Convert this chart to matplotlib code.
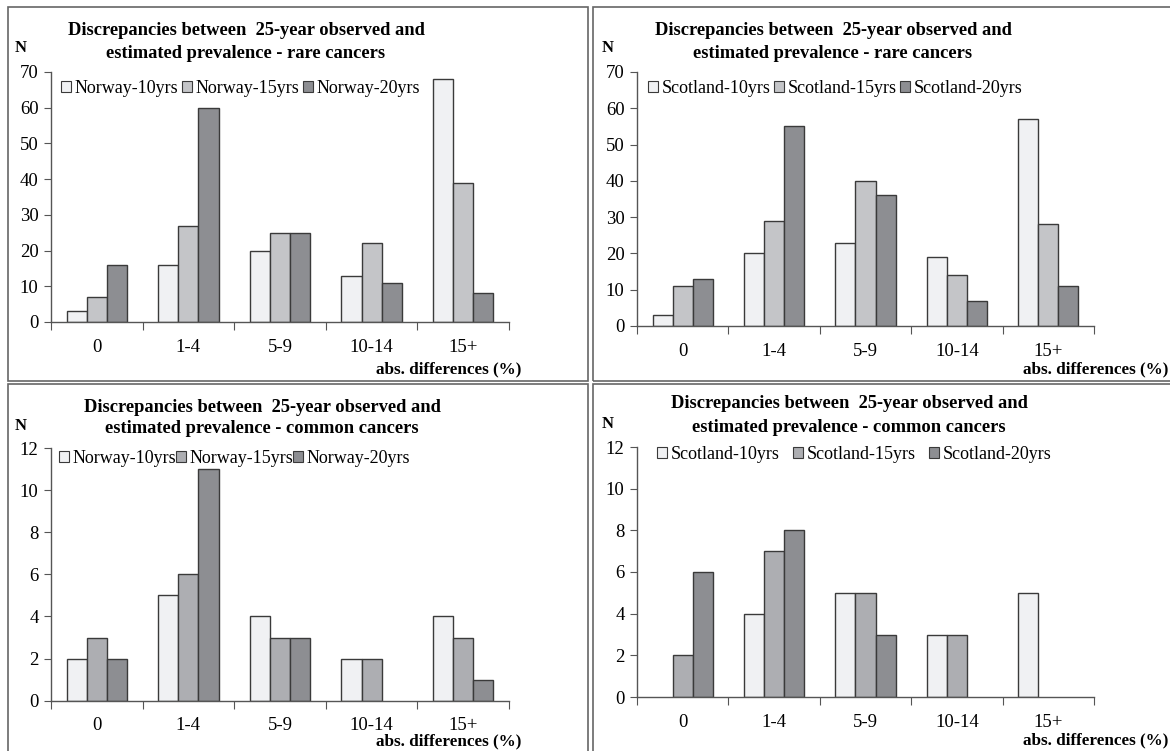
import matplotlib
matplotlib.use("Agg")
import matplotlib.pyplot as plt
from matplotlib.patches import Rectangle, Patch
import numpy as np

plt.rcParams['font.family'] = ['Liberation Serif', 'DejaVu Serif']

categories = ['0', '1-4', '5-9', '10-14', '15+']

norway_rare_10 = [3, 16, 20, 13, 68]
norway_rare_15 = [7, 27, 25, 22, 39]
norway_rare_20 = [16, 60, 25, 11, 8]

scotland_rare_10 = [3, 20, 23, 19, 57]
scotland_rare_15 = [11, 29, 40, 14, 28]
scotland_rare_20 = [13, 55, 36, 7, 11]

norway_common_10 = [2, 5, 4, 2, 4]
norway_common_15 = [3, 6, 3, 2, 3]
norway_common_20 = [2, 11, 3, 0, 1]

scotland_common_10 = [0, 4, 5, 3, 5]
scotland_common_15 = [2, 7, 5, 3, 0]
scotland_common_20 = [6, 8, 3, 0, 0]

title_rare = ['Discrepancies between  25-year observed and', 'estimated prevalence - rare cancers']
title_common = ['Discrepancies between  25-year observed and', 'estimated prevalence - common cancers']

W, H = 1170, 751
fig = plt.figure(figsize=(W / 100, H / 100), dpi=100)

def fx(px):
    return px / W

def fy(py):
    return 1 - py / H

light = '#f0f1f3'
mid_rare = '#c4c5c8'
mid_common = '#adaeb2'
dark = '#8d8e92'
edge = '#3a3a3a'

panels = [
    dict(box=(51, 509, 322, 72), data=(norway_rare_10, norway_rare_15, norway_rare_20),
         labels=('Norway-10yrs', 'Norway-15yrs', 'Norway-20yrs'), ymax=70, step=10, mid=mid_rare,
         title=title_rare, tx=246, ty=(35, 58), nxy=(21, 52), xl=(521, 373),
         leg=(61, 80), colsp=0.2, frame=(8, 7, 588, 381)),
    dict(box=(637, 1094, 326, 72), data=(scotland_rare_10, scotland_rare_15, scotland_rare_20),
         labels=('Scotland-10yrs', 'Scotland-15yrs', 'Scotland-20yrs'), ymax=70, step=10, mid=mid_rare,
         title=title_rare, tx=833, ty=(35, 58), nxy=(608, 52), xl=(1168, 373),
         leg=(648, 80), colsp=0.2, frame=(593, 7, 1200, 381)),
    dict(box=(51, 509, 700.7, 448), data=(norway_common_10, norway_common_15, norway_common_20),
         labels=('Norway-10yrs', 'Norway-15yrs', 'Norway-20yrs'), ymax=12, step=2, mid=mid_common,
         title=title_common, tx=262, ty=(412, 433), nxy=(21, 430), xl=(521, 745),
         leg=(59, 450), colsp=0.0, frame=(8, 384, 588, 800)),
    dict(box=(637, 1094, 697, 447), data=(scotland_common_10, scotland_common_15, scotland_common_20),
         labels=('Scotland-10yrs', 'Scotland-15yrs', 'Scotland-20yrs'), ymax=12, step=2, mid=mid_common,
         title=title_common, tx=849, ty=(408, 432), nxy=(608, 428), xl=(1168, 744),
         leg=(657, 446), colsp=0.75, frame=(593, 384, 1200, 800)),
]

x = np.arange(len(categories))
bw = 0.22

for p in panels:
    l, r, y0, yt = p['box']
    ax = fig.add_axes([fx(l), fy(y0), fx(r) - fx(l), fy(yt) - fy(y0)])
    cols = (light, p['mid'], dark)
    for i, (vals, c, lab) in enumerate(zip(p['data'], cols, p['labels'])):
        bars = ax.bar(x + (i - 1) * bw, vals, width=bw, color=c, edgecolor=edge, linewidth=1.0,
                      label=lab, zorder=2)
        for b, v in zip(bars, vals):
            if v == 0:
                b.set_visible(False)
    ax.set_xlim(-0.5, 4.5)
    ax.set_ylim(0, p['ymax'])
    ax.set_yticks(np.arange(0, p['ymax'] + 0.1, p['step']))
    ax.set_xticks(np.arange(-0.5, 5, 1.0))
    ax.set_xticklabels([])
    ax.set_xticks(x, minor=True)
    ax.set_xticklabels(categories, minor=True)
    ax.tick_params(axis='x', which='minor', length=0, pad=12, labelsize=13.5)
    ax.tick_params(axis='x', which='major', length=6, direction='out', color='#555555')
    ax.tick_params(axis='y', length=5, direction='out', color='#555555', labelsize=13.5, pad=4)
    for s in ('top', 'right'):
        ax.spines[s].set_visible(False)
    for s in ('left', 'bottom'):
        ax.spines[s].set_color('#555555')
        ax.spines[s].set_linewidth(1.0)
    handles = [Patch(facecolor=c, edgecolor=edge, linewidth=0.8) for c in cols]
    lx, ly = p['leg']
    ax.legend(handles, p['labels'], loc='upper left', bbox_to_anchor=(fx(lx), fy(ly)),
              bbox_transform=fig.transFigure, ncol=3, frameon=False, fontsize=13,
              handlelength=0.55, handleheight=0.55, handletextpad=0.2,
              columnspacing=p['colsp'], borderpad=0, borderaxespad=0)
    fig.text(fx(p['tx']), fy(p['ty'][0]), p['title'][0], ha='center', va='baseline',
             fontsize=13.3, fontweight='bold')
    fig.text(fx(p['tx']), fy(p['ty'][1]), p['title'][1], ha='center', va='baseline',
             fontsize=13.3, fontweight='bold')
    fig.text(fx(p['nxy'][0]), fy(p['nxy'][1]), 'N', ha='center', va='baseline',
             fontsize=12, fontweight='bold')
    fig.text(fx(p['xl'][0]), fy(p['xl'][1]), 'abs. differences (%)', ha='right', va='baseline',
             fontsize=12.3, fontweight='bold')
    fl, ft, fr, fb = p['frame']
    fig.patches.append(Rectangle((fx(fl), fy(fb)), fx(fr) - fx(fl), fy(ft) - fy(fb),
                                 transform=fig.transFigure, fill=False,
                                 edgecolor='#666666', linewidth=1.2))

fig.savefig('out.png', dpi=100)
